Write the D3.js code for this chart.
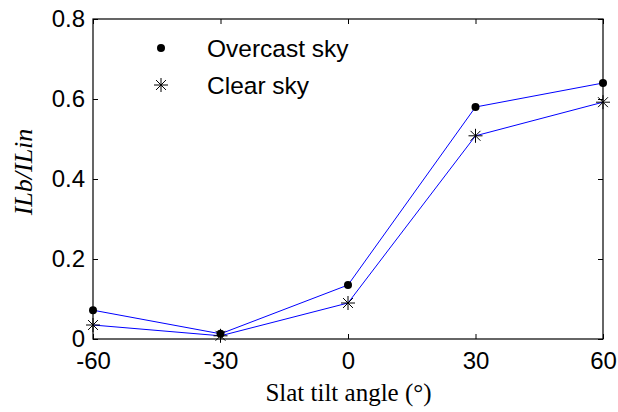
<!DOCTYPE html>
<html>
<head>
<meta charset="utf-8">
<script src="https://cdn.jsdelivr.net/npm/d3@7"></script>
<style>
  html, body { margin: 0; padding: 0; background: #fff; }
  svg { display: block; }
</style>
</head>
<body>
<svg id="chart" width="618" height="412"></svg>
<script>
// Slat tilt angles (degrees) and illuminance ratios for each sky condition
const angles = [-60, -30, 0, 30, 60];
const overcast = [0.072, 0.013, 0.135, 0.58, 0.64];
const clear = [0.035, 0.008, 0.09, 0.508, 0.592];
const xTicks = [-60, -30, 0, 30, 60];
const yTicks = [0, 0.2, 0.4, 0.6, 0.8];
const yTickLabels = ["0", "0.2", "0.4", "0.6", "0.8"];
const seriesNames = ["Overcast sky", "Clear sky"];

const svg = d3.select("#chart");
const plotL = 93, plotR = 603, plotT = 19, plotB = 339;

const x = d3.scaleLinear().domain([-60, 60]).range([plotL, plotR]);
const y = d3.scaleLinear().domain([0, 0.8]).range([plotB, plotT]);

const tickFont = "Liberation Sans, Arial, sans-serif";
const serif = "Liberation Serif, Times New Roman, serif";

// Axes: ticks point inward, mirrored on the opposite sides
const tl = 5;
svg.append("g").attr("transform", `translate(0,${plotB})`)
  .call(d3.axisBottom(x).tickValues(xTicks).tickSizeInner(-tl).tickSizeOuter(0).tickPadding(13).tickFormat(d => String(d)));
svg.append("g").attr("transform", `translate(0,${plotT})`)
  .call(d3.axisTop(x).tickValues(xTicks).tickSizeInner(-tl).tickSizeOuter(0).tickFormat(""));
svg.append("g").attr("transform", `translate(${plotL},0)`)
  .call(d3.axisLeft(y).tickValues(yTicks).tickSizeInner(-tl).tickSizeOuter(0).tickPadding(8).tickFormat((d, i) => yTickLabels[i]));
svg.append("g").attr("transform", `translate(${plotR},0)`)
  .call(d3.axisRight(y).tickValues(yTicks).tickSizeInner(-tl).tickSizeOuter(0).tickFormat(""));

svg.selectAll(".domain").remove();
svg.selectAll(".tick line").attr("stroke", "#000").attr("stroke-width", 1);
svg.selectAll(".tick text").attr("font-family", tickFont).attr("font-size", 24).attr("fill", "#000");

// Box around the plot area
svg.append("rect").attr("x", plotL).attr("y", plotT)
  .attr("width", plotR - plotL).attr("height", plotB - plotT)
  .attr("fill", "none").attr("stroke", "#000").attr("stroke-width", 1.2);

// Lines
const line = d3.line().x((d, i) => x(angles[i])).y(d => y(d));
[overcast, clear].forEach(s => {
  svg.append("path").datum(s).attr("d", line)
    .attr("fill", "none").attr("stroke", "#0000ff").attr("stroke-width", 1);
});

// Markers
function star(g, cx, cy, r) {
  const a = r * Math.SQRT1_2;
  const segs = [[-r, 0, r, 0], [0, -r, 0, r], [-a, -a, a, a], [-a, a, a, -a]];
  segs.forEach(s => g.append("line")
    .attr("x1", cx + s[0]).attr("y1", cy + s[1]).attr("x2", cx + s[2]).attr("y2", cy + s[3])
    .attr("stroke", "#000").attr("stroke-width", 1));
}
svg.append("g").selectAll("circle").data(overcast).join("circle")
  .attr("cx", (d, i) => x(angles[i])).attr("cy", d => y(d)).attr("r", 4).attr("fill", "#000");
const starG = svg.append("g");
clear.forEach((d, i) => star(starG, x(angles[i]), y(d), 7));

// Legend
const leg = svg.append("g");
leg.append("circle").attr("cx", 161).attr("cy", 48).attr("r", 4).attr("fill", "#000");
star(leg, 161, 85, 7);
leg.append("text").attr("x", 207).attr("y", 57).text(seriesNames[0])
  .attr("font-family", tickFont).attr("font-size", 24.5).attr("fill", "#000");
leg.append("text").attr("x", 207).attr("y", 94).text(seriesNames[1])
  .attr("font-family", tickFont).attr("font-size", 24.5).attr("fill", "#000");

// Axis titles
svg.append("text").attr("x", 348.5).attr("y", 401)
  .attr("text-anchor", "middle").attr("font-family", serif).attr("font-size", 25)
  .text("Slat tilt angle (°)");
svg.append("text").attr("transform", "translate(32,172) rotate(-90)")
  .attr("text-anchor", "middle").attr("font-family", serif).attr("font-size", 26)
  .attr("font-style", "italic").text("ILb/ILin");
</script>
</body>
</html>
